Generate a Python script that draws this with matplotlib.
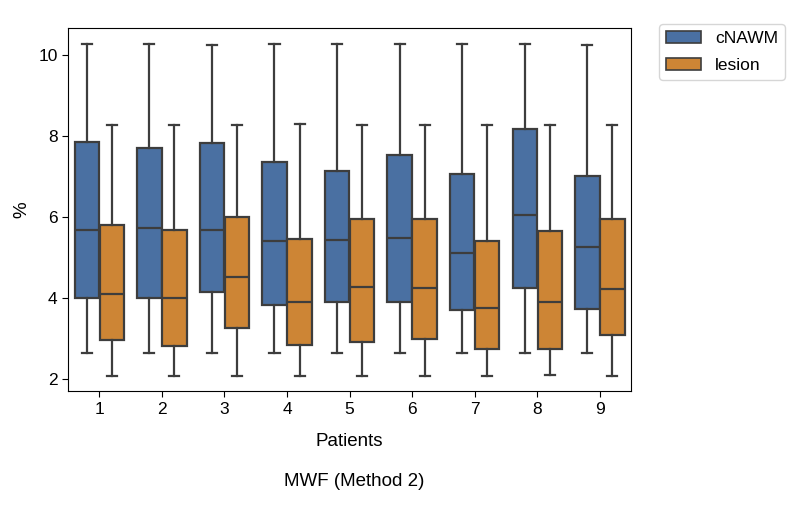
import matplotlib
matplotlib.use("Agg")
import matplotlib.pyplot as plt
from matplotlib.patches import Patch
import numpy as np

plt.rcParams['font.family'] = ['Liberation Sans', 'DejaVu Sans']

patients = ["1", "2", "3", "4", "5", "6", "7", "8", "9"]
groups = ["cNAWM", "lesion"]

# box statistics
cnawm_lo  = [2.64, 2.64, 2.64, 2.64, 2.63, 2.63, 2.63, 2.65, 2.63]
cnawm_q1  = [4.00, 4.00, 4.15, 3.83, 3.91, 3.91, 3.70, 4.25, 3.73]
cnawm_med = [5.68, 5.73, 5.68, 5.41, 5.43, 5.47, 5.10, 6.05, 5.27]
cnawm_q3  = [7.85, 7.70, 7.83, 7.36, 7.14, 7.53, 7.06, 8.17, 7.01]
cnawm_hi  = [10.27, 10.27, 10.25, 10.27, 10.26, 10.28, 10.26, 10.28, 10.25]

lesion_lo  = [2.07, 2.07, 2.07, 2.07, 2.07, 2.07, 2.07, 2.09, 2.07]
lesion_q1  = [2.96, 2.81, 3.26, 2.84, 2.92, 2.99, 2.73, 2.73, 3.09]
lesion_med = [4.09, 4.00, 4.52, 3.90, 4.28, 4.24, 3.75, 3.89, 4.22]
lesion_q3  = [5.80, 5.68, 6.00, 5.46, 5.94, 5.94, 5.40, 5.65, 5.94]
lesion_hi  = [8.27, 8.27, 8.27, 8.30, 8.28, 8.28, 8.28, 8.26, 8.28]

colors = ["#4a70a2", "#cd8535"]
line_c = "#3d3d3d"

fig = plt.figure(figsize=(8.04, 5.18), dpi=100)
ax = fig.add_axes([0.0846, 0.245, 0.7004, 0.701])

def stats(lo, q1, med, q3, hi):
    return [dict(whislo=a, q1=b, med=c, q3=d, whishi=e, fliers=[])
            for a, b, c, d, e in zip(lo, q1, med, q3, hi)]

sets = [stats(cnawm_lo, cnawm_q1, cnawm_med, cnawm_q3, cnawm_hi),
        stats(lesion_lo, lesion_q1, lesion_med, lesion_q3, lesion_hi)]

x = np.arange(len(patients))
bw = 0.392
offsets = [-0.2, 0.2]
for st, off, col in zip(sets, offsets, colors):
    ax.bxp(st, positions=x + off, widths=bw, patch_artist=True,
           showfliers=False, manage_ticks=False, capwidths=0.16,
           boxprops=dict(facecolor=col, edgecolor=line_c, linewidth=1.6),
           medianprops=dict(color=line_c, linewidth=1.6),
           whiskerprops=dict(color=line_c, linewidth=1.6),
           capprops=dict(color=line_c, linewidth=1.6))

ax.set_xlim(-0.5, len(patients) - 0.5)
ax.set_ylim(1.70, 10.667)
ax.set_xticks(x)
ax.set_xticklabels(patients)
ax.set_yticks([2, 4, 6, 8, 10])
ax.tick_params(labelsize=12.5, length=4)
ax.set_xlabel("Patients", fontsize=13.5, labelpad=12)
ax.set_ylabel("%", fontsize=13.5, labelpad=6)

handles = [Patch(facecolor=c, edgecolor=line_c, linewidth=1.2, label=g)
           for c, g in zip(colors, groups)]
ax.legend(handles=handles, loc="upper left", bbox_to_anchor=(1.05, 1.01),
          borderaxespad=0, fontsize=12.5, labelspacing=0.65)

fig.text(0.441, 0.062, "MWF (Method 2)", ha="center", fontsize=13.5)

fig.savefig("out.png", dpi=100)
